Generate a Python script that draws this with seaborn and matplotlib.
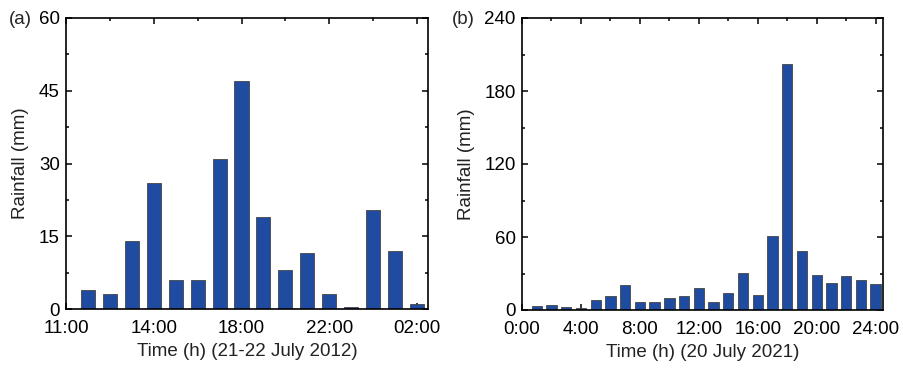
import matplotlib
matplotlib.use("Agg")
import matplotlib.pyplot as plt
from matplotlib.ticker import MultipleLocator, FixedLocator
import seaborn as sns
import pandas as pd

# Panel (a): 21-22 July 2012, hourly rainfall (hour index 11..26)
hours_a = [11, 12, 13, 14, 15, 16, 17, 18, 19, 20, 21, 22, 23, 24, 25, 26]
rain_a = [4, 3, 14, 26, 6, 6, 31, 47, 19, 8, 11.5, 3, 0.4, 20.5, 12, 1.0]
ticks_a = [10, 14, 18, 22, 26]
ticklabels_a = ["11:00", "14:00", "18:00", "22:00", "02:00"]

# Panel (b): 20 July 2021, hourly rainfall
hours_b = list(range(1, 25))
rain_b = [3.6, 4, 2.5, 1.4, 8, 11.2, 20.6, 6.9, 6.6, 9.9, 11.5, 18.4,
          6.9, 13.7, 30.4, 12.1, 60.6, 202, 48.3, 28.8, 22.2, 28, 24.7, 21.7]
ticks_b = [0, 4, 8, 12, 16, 20, 24]
ticklabels_b = ["0:00", "4:00", "8:00", "12:00", "16:00", "20:00", "24:00"]

sns.set_theme(style="white")
plt.rcParams['font.family'] = ['Liberation Sans', 'DejaVu Sans']
FS = 13.5
plt.rcParams['font.size'] = FS

BAR = "#1f4ba0"
W, H = 904, 369
fig = plt.figure(figsize=(W / 100, H / 100), dpi=100)
ax_a = fig.add_axes([66 / W, 1 - 309 / H, (428 - 66) / W, (309 - 18) / H])
ax_b = fig.add_axes([522 / W, 1 - 310 / H, (883 - 522) / W, (310 - 18) / H])

df_a = pd.DataFrame({"h": hours_a, "r": rain_a})
df_b = pd.DataFrame({"h": hours_b, "r": rain_b})

sns.barplot(data=df_a, x="h", y="r", native_scale=True, width=0.64,
            color=BAR, saturation=1, edgecolor="#444444", linewidth=0.6, ax=ax_a)
sns.barplot(data=df_b, x="h", y="r", native_scale=True, width=0.70,
            color=BAR, saturation=1, edgecolor="#444444", linewidth=0.6, ax=ax_b)

def style(ax, xlim, xticks, xlabels, xminor, ylim, ymaj, ymin, xlabel):
    ax.set_xlim(*xlim)
    ax.set_ylim(*ylim)
    ax.xaxis.set_major_locator(FixedLocator(xticks))
    ax.set_xticklabels(xlabels)
    ax.xaxis.set_minor_locator(FixedLocator(xminor))
    ax.yaxis.set_major_locator(MultipleLocator(ymaj))
    ax.yaxis.set_minor_locator(MultipleLocator(ymin))
    ax.tick_params(which="both", direction="in", top=True, right=True,
                   bottom=True, left=True, width=1.1, color="black",
                   labelsize=FS, labelcolor="black")
    ax.tick_params(which="major", length=4.5)
    ax.tick_params(which="minor", length=2.5)
    ax.tick_params(axis="x", which="major", pad=8)
    ax.tick_params(axis="y", which="major", pad=4.5)
    for s in ax.spines.values():
        s.set_visible(True)
        s.set_linewidth(1.2)
        s.set_color("black")
    ax.set_xlabel(xlabel, fontsize=FS, labelpad=4, color="#222222")
    ax.set_ylabel("Rainfall (mm)", fontsize=FS, labelpad=7, color="#222222")

style(ax_a, (10, 26.5), ticks_a, ticklabels_a, [12, 16, 20, 24],
      (0, 60), 15, 7.5, "Time (h) (21-22 July 2012)")
style(ax_b, (0, 24.5), ticks_b, ticklabels_b, [2, 6, 10, 14, 18, 22],
      (0, 240), 60, 30, "Time (h) (20 July 2021)")

fig.text(9 / W, 1 - 19 / H, "(a)", fontsize=FS, va="center", ha="left")
fig.text(452 / W, 1 - 20 / H, "(b)", fontsize=FS, va="center", ha="left")

fig.savefig("out.png", dpi=100)
